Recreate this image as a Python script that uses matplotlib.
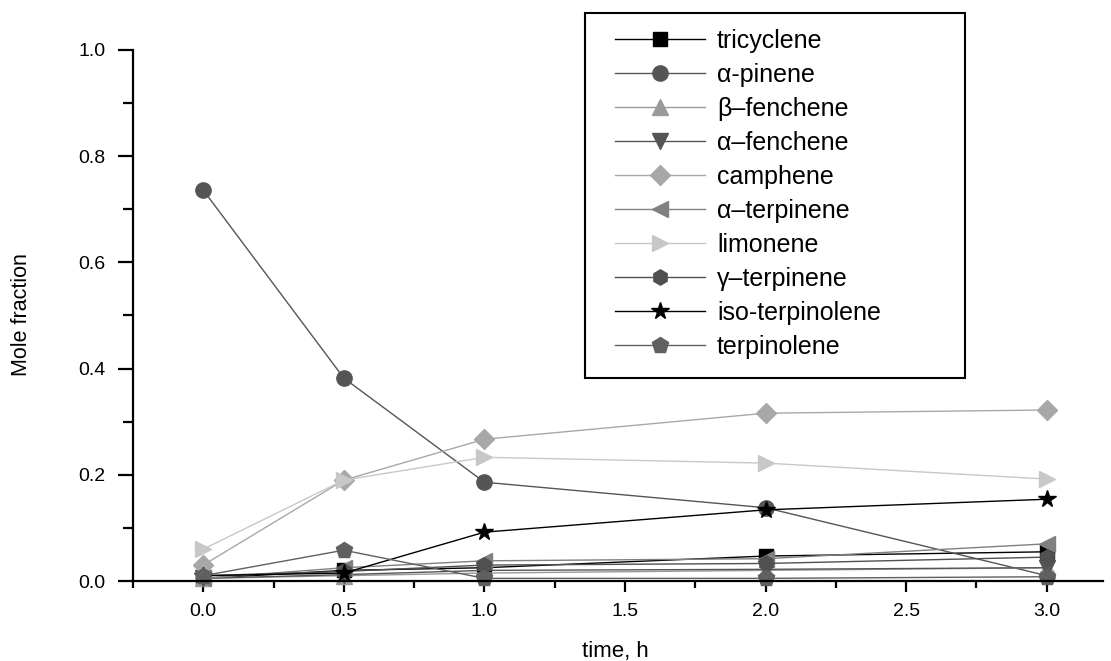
import matplotlib
matplotlib.use("Agg")
import matplotlib.pyplot as plt
from matplotlib.patches import Rectangle
from matplotlib.ticker import MultipleLocator, FormatStrFormatter

plt.rcParams['font.family'] = ['Liberation Sans', 'DejaVu Sans']

time_h = [0.0, 0.5, 1.0, 2.0, 3.0]

tricyclene = [0.005, 0.020, 0.025, 0.047, 0.055]
a_pinene = [0.736, 0.382, 0.186, 0.138, 0.010]
b_fenchene = [0.005, 0.010, 0.015, 0.020, 0.025]
a_fenchene = [0.005, 0.012, 0.020, 0.022, 0.025]
camphene = [0.030, 0.190, 0.267, 0.316, 0.322]
a_terpinene = [0.005, 0.025, 0.038, 0.042, 0.070]
limonene = [0.060, 0.190, 0.233, 0.222, 0.192]
g_terpinene = [0.010, 0.018, 0.030, 0.033, 0.045]
iso_terpinolene = [0.010, 0.015, 0.092, 0.134, 0.154]
terpinolene = [0.010, 0.058, 0.005, 0.005, 0.008]

labels = ["tricyclene", "\u03b1-pinene", "\u03b2\u2013fenchene", "\u03b1\u2013fenchene",
          "camphene", "\u03b1\u2013terpinene", "limonene", "\u03b3\u2013terpinene",
          "iso-terpinolene", "terpinolene"]
series = [tricyclene, a_pinene, b_fenchene, a_fenchene, camphene,
          a_terpinene, limonene, g_terpinene, iso_terpinolene, terpinolene]
markers = ['s', 'o', '^', 'v', 'D', '<', '>', 'h', '*', 'p']
colors = ['#000000', '#555555', '#9a9a9a', '#555555', '#a8a8a8',
          '#808080', '#c8c8c8', '#505050', '#000000', '#606060']
msizes = [10, 11, 11, 11, 10, 11, 11, 11, 13, 12]

fig = plt.figure(figsize=(11.11, 6.61), dpi=100)
ax = fig.add_axes([133/1111, 1 - 581/661, (1103-133)/1111, 531/661])

handles = []
for y, lab, m, c, ms in zip(series, labels, markers, colors, msizes):
    h, = ax.plot(time_h, y, marker=m, color=c, markerfacecolor=c, markeredgecolor=c,
                 markersize=ms, linewidth=1.0, label=lab, clip_on=False)
    handles.append(h)

ax.set_xlim(-0.25, 3.2)
ax.set_ylim(0.0, 1.0)
ax.xaxis.set_major_locator(MultipleLocator(0.5))
ax.xaxis.set_minor_locator(MultipleLocator(0.25))
ax.yaxis.set_major_locator(MultipleLocator(0.2))
ax.yaxis.set_minor_locator(MultipleLocator(0.1))
ax.spines['top'].set_visible(False)
ax.spines['right'].set_visible(False)
ax.spines['left'].set_linewidth(1.6)
ax.spines['bottom'].set_linewidth(1.6)
ax.tick_params(axis='x', which='major', length=8, width=1.6, labelsize=14, pad=8)
ax.tick_params(axis='x', which='minor', length=5, width=1.6)
ax.tick_params(axis='y', which='major', length=11, width=1.6, labelsize=14, pad=9)
ax.tick_params(axis='y', which='minor', length=7, width=1.6)
ax.xaxis.set_major_formatter(FormatStrFormatter('%.1f'))
ax.yaxis.set_major_formatter(FormatStrFormatter('%.1f'))

fig.text(22/1111, 1 - 315/661, "Mole fraction", rotation=90, ha='center', va='center', fontsize=15.5)
fig.text(615/1111, 1 - 651/661, "time, h", ha='center', va='center', fontsize=16)

# legend frame
fig.patches.append(Rectangle((585/1111, 1 - 378/661), (965-585)/1111, (378-13)/661,
                             transform=fig.transFigure, fill=False, edgecolor='black',
                             linewidth=1.5, zorder=3))
leg = fig.legend(handles=handles, labels=labels, loc='upper left',
                 bbox_to_anchor=(615/1111, 1 - 29/661), frameon=False,
                 fontsize=18, borderpad=0, borderaxespad=0, labelspacing=0.40,
                 handlelength=3.6, handletextpad=0.48, markerscale=1.0)

fig.savefig("out.png", dpi=100)
